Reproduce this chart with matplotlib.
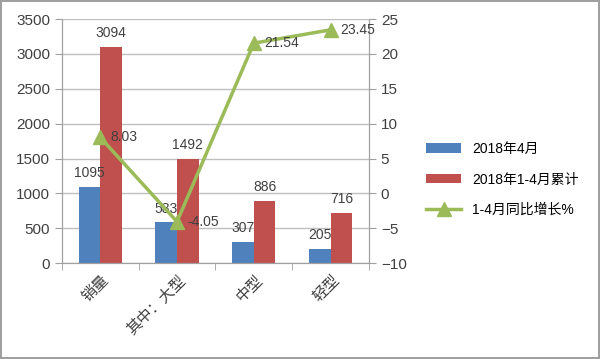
import matplotlib.pyplot as plt
import numpy as np

plt.rcParams['font.family'] = ['Liberation Sans', 'Noto Sans CJK SC', 'DejaVu Sans']

categories = ['销量', '其中：大型', '中型', '轻型']
april = [1095, 583, 307, 205]
jan_apr = [3094, 1492, 886, 716]
growth = [8.03, -4.05, 21.54, 23.45]

blue = '#4F81BD'
red = '#C0504D'
green = '#9BBB59'
grid_c = '#BFBFBF'
txt = '#404040'

fig = plt.figure(figsize=(6, 3.59), dpi=100)
fig.patch.set_edgecolor('#A0A0A0')
fig.patch.set_linewidth(1.5)
ax = fig.add_axes([0.103, 0.267, 0.512, 0.68])
ax2 = ax.twinx()

x = np.arange(len(categories))
w = 0.28
b1 = ax.bar(x - w / 2, april, w, color=blue, label='2018年4月', zorder=2)
b2 = ax.bar(x + w / 2, jan_apr, w, color=red, label='2018年1-4月累计', zorder=2)
for xi, v in zip(x, april):
    ax.text(xi - w / 2, v + 100, str(v), ha='center', va='bottom', fontsize=10, color=txt)
for xi, v in zip(x, jan_apr):
    ax.text(xi + w / 2, v + 100, str(v), ha='center', va='bottom', fontsize=10, color=txt)

ln, = ax2.plot(x, growth, color=green, lw=2.5, marker='^', ms=10, label='1-4月同比增长%', zorder=3)
for xi, v in zip(x, growth):
    ax2.text(xi + 0.13, v, f'{v:.2f}', ha='left', va='center', fontsize=10, color=txt)

ax.set_xlim(-0.5, 3.5)
ax.set_ylim(0, 3500)
ax.set_yticks(range(0, 3501, 500))
ax2.set_ylim(-10, 25)
ax2.set_yticks(range(-10, 26, 5))
ax.yaxis.grid(True, color=grid_c, lw=1, zorder=0)
ax.set_axisbelow(True)

ax.set_xticks(x)
ax.set_xticklabels(categories, rotation=45, ha='right', rotation_mode='anchor',
                   fontsize=11, color=txt, family=['Noto Sans CJK SC'])
ax.set_xticks(np.arange(-0.5, 4, 1), minor=True)
ax.tick_params(axis='x', which='major', length=0, pad=6)
ax.tick_params(axis='x', which='minor', length=5, color='#A0A0A0', direction='out')
ax.tick_params(axis='y', length=5, color='#A0A0A0', labelsize=11, labelcolor=txt)
ax2.tick_params(axis='y', length=5, color='#A0A0A0', labelsize=11, labelcolor=txt)

for a in (ax, ax2):
    a.spines['top'].set_visible(False)
    for s in ('left', 'right', 'bottom'):
        a.spines[s].set_color('#A0A0A0')

handles = [b1, b2, ln]
fig.legend(handles, [h.get_label() for h in handles], loc='center left',
           bbox_to_anchor=(0.69, 0.5), frameon=False, fontsize=10,
           prop={'family': ['Liberation Sans', 'Noto Sans CJK SC'], 'size': 10},
           handlelength=2.5, labelspacing=1.2)

fig.savefig('out.png', dpi=100, edgecolor=fig.get_edgecolor())
